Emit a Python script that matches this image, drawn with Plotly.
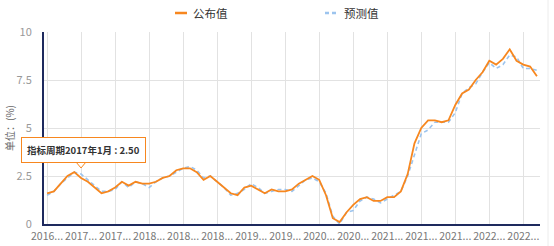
import plotly.graph_objects as go
import pandas as pd

# Release months (category labels) for periods 2016-10 .. 2022-10
periods = pd.period_range("2016-10", "2022-10", freq="M")
categories = [(p + 1).strftime("%Y-%m") for p in periods]
tick_step = 5
tick_vals = categories[::tick_step]
tick_text = [c[:4] + "..." for c in tick_vals]

published = [1.6, 1.7, 2.1,
             2.5, 2.7, 2.4, 2.2, 1.9, 1.6, 1.7, 1.9, 2.2, 2.0, 2.2, 2.1,
             2.1, 2.2, 2.4, 2.5, 2.8, 2.9, 2.9, 2.7, 2.3, 2.5, 2.2, 1.9,
             1.6, 1.5, 1.9, 2.0, 1.8, 1.6, 1.8, 1.7, 1.7, 1.8, 2.1, 2.3,
             2.5, 2.3, 1.5, 0.3, 0.1, 0.6, 1.0, 1.3, 1.4, 1.2, 1.2, 1.4,
             1.4, 1.7, 2.6, 4.2, 5.0, 5.4, 5.4, 5.3, 5.4, 6.2, 6.8, 7.0,
             7.5, 7.9, 8.5, 8.3, 8.6, 9.1, 8.5, 8.3, 8.2, 7.7]
forecast = [1.5, 1.7, 2.1,
            2.4, 2.7, 2.6, 2.3, 2.0, 1.7, 1.7, 1.8, 2.2, 1.9, 2.2, 2.1,
            1.9, 2.2, 2.4, 2.5, 2.7, 2.9, 3.0, 2.8, 2.4, 2.5, 2.2, 1.9,
            1.5, 1.6, 1.8, 2.1, 1.9, 1.6, 1.7, 1.8, 1.8, 1.7, 2.0, 2.3,
            2.4, 2.2, 1.6, 0.4, 0.0, 0.6, 0.7, 1.2, 1.4, 1.3, 1.1, 1.3,
            1.5, 1.7, 2.5, 3.6, 4.7, 4.9, 5.3, 5.3, 5.3, 5.8, 6.8, 7.1,
            7.3, 7.9, 8.4, 8.1, 8.3, 8.8, 8.7, 8.1, 8.1, 8.0]
y_ticks = [0, 2.5, 5, 7.5, 10]
y_tick_text = ["0", "2.5", "5", "7.5", "10"]

ORANGE = "#F7871F"
BLUE = "#9CC4EE"
NAVY = "#1E2A5E"
FONT = "Noto Sans CJK SC"

W, H = 554, 246
ML, MR, MT, MB = 44, 14, 32, 22
PW, PH = W - ML - MR, H - MT - MB


def px(x):
    return (x - ML) / PW


def py(y):
    return (H - MB - y) / PH


fig = go.Figure()
fig.add_trace(go.Scatter(x=categories, y=forecast, mode="lines", name="预测值",
                         line=dict(color=BLUE, width=1.6, dash="4px,3px"),
                         showlegend=False))
fig.add_trace(go.Scatter(x=categories, y=published, mode="lines", name="公布值",
                         line=dict(color=ORANGE, width=1.8),
                         showlegend=False))

shapes = [
    # legend samples
    dict(type="line", xref="paper", yref="paper", x0=px(175), x1=px(187), y0=py(13), y1=py(13),
         line=dict(color=ORANGE, width=2.5)),
    dict(type="line", xref="paper", yref="paper", x0=px(325), x1=px(338), y0=py(13), y1=py(13),
         line=dict(color=BLUE, width=2.5, dash="4px,3px")),
    # container right border
    dict(type="line", xref="paper", yref="paper", x0=px(548), x1=px(548), y0=py(246), y1=py(0),
         line=dict(color="#ECECEC", width=1)),
    # tooltip pointer
    dict(type="path", xref="paper", yref="paper",
         path=f"M {px(76)},{py(162)} L {px(81)},{py(168)} L {px(86)},{py(162)} Z",
         fillcolor="white", line=dict(color=ORANGE, width=1)),
]

annotations = [
    dict(text="公布值", xref="paper", yref="paper", x=px(191), y=py(13), xanchor="left",
         yanchor="middle", showarrow=False, font=dict(family=FONT, size=11.5, color="#333")),
    dict(text="预测值", xref="paper", yref="paper", x=px(342), y=py(13), xanchor="left",
         yanchor="middle", showarrow=False, font=dict(family=FONT, size=11.5, color="#333")),
    dict(text="单位：(%)", xref="paper", yref="paper", x=px(9), y=0.5, textangle=-90,
         xanchor="center", yanchor="middle", showarrow=False,
         font=dict(family=FONT, size=10, color="#666")),
    dict(text="<b>指标周期2017年1月 : 2.50</b>", xref="paper", yref="paper", x=px(83), y=py(150),
         xanchor="center", yanchor="middle", showarrow=False, bgcolor="white",
         bordercolor=ORANGE, borderwidth=1, borderpad=5,
         font=dict(family=FONT, size=9.5, color="#333")),
]

fig.update_layout(
    width=W, height=H,
    margin=dict(l=ML, r=MR, t=MT, b=MB),
    paper_bgcolor="white", plot_bgcolor="white",
    font=dict(family=FONT),
    shapes=shapes, annotations=annotations,
    xaxis=dict(type="category", range=[-0.45, len(categories) - 0.55],
               tickmode="array", tickvals=tick_vals, ticktext=tick_text,
               tickangle=0, automargin=False,
               showgrid=True, gridcolor="#E2E2E2", gridwidth=1,
               showline=True, linecolor=NAVY, linewidth=2,
               ticks="outside", ticklen=1, tickcolor="rgba(0,0,0,0)",
               tickfont=dict(family=FONT, size=10.5, color="#777")),
    yaxis=dict(range=[0, 10], tickmode="array", tickvals=y_ticks, ticktext=y_tick_text,
               automargin=False,
               showgrid=True, gridcolor="#E2E2E2", gridwidth=1, zeroline=False,
               showline=True, linecolor=NAVY, linewidth=2,
               ticks="outside", ticklen=8, tickcolor="rgba(0,0,0,0)",
               tickfont=dict(family=FONT, size=11, color="#999")),
)

fig.write_html("out.html")
